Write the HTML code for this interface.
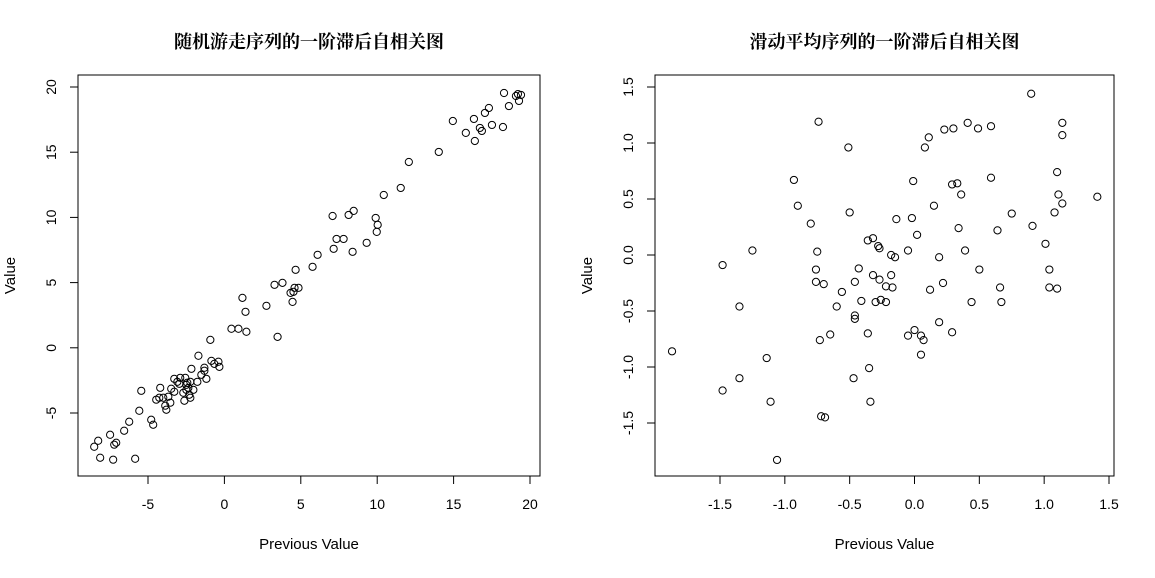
<!DOCTYPE html>
<html><head><meta charset="utf-8"><style>
body{margin:0;background:#fff;}
svg text{font-family:"Liberation Sans","Noto Sans CJK SC",sans-serif;}
</style></head><body>
<svg id="chart" width="1155" height="573" xmlns="http://www.w3.org/2000/svg"></svg>
<script>
const leftPrev=[-8.52,-8.26,-8.13,-7.48,-7.21,-7.08,-7.28,-6.56,-6.23,-5.84,-5.57,-5.44,-4.79,-4.66,-4.46,-4.26,-4.20,-4.00,-3.87,-3.80,-3.67,-3.54,-3.48,-3.28,-3.28,-3.08,-2.95,-2.89,-2.62,-2.69,-2.56,-2.49,-2.49,-2.43,-2.36,-2.30,-2.23,-2.23,-2.16,-2.03,-1.77,-1.70,-1.51,-1.31,-1.18,-1.31,-0.92,-0.85,-0.66,-0.39,-0.33,0.46,0.92,1.18,1.38,1.44,2.75,3.28,3.48,3.80,4.33,4.46,4.52,4.59,4.66,4.85,5.77,6.10,7.08,7.15,7.34,7.80,8.13,8.39,8.46,9.31,9.90,9.97,10.03,10.43,11.54,12.07,14.03,14.95,15.80,16.33,16.39,16.72,16.85,17.05,17.31,17.51,18.23,18.30,18.62,19.08,19.21,19.28,19.41];
const leftVal=[-7.59,-7.13,-8.43,-6.67,-7.43,-7.28,-8.58,-6.36,-5.67,-8.51,-4.83,-3.30,-5.52,-5.90,-3.98,-3.83,-3.07,-3.83,-4.44,-4.75,-3.75,-4.21,-3.14,-2.38,-3.37,-2.61,-2.76,-2.30,-4.06,-3.45,-2.30,-2.84,-3.22,-2.68,-3.07,-3.60,-3.83,-2.61,-1.61,-3.22,-2.61,-0.61,-2.07,-1.76,-2.38,-1.53,0.61,-1.00,-1.23,-1.07,-1.46,1.46,1.46,3.83,2.76,1.23,3.22,4.83,0.84,4.98,4.21,3.52,4.29,4.60,5.98,4.60,6.21,7.13,10.11,7.59,8.35,8.35,10.19,7.36,10.50,8.05,9.96,8.89,9.43,11.72,12.26,14.25,15.02,17.39,16.48,17.55,15.86,16.86,16.63,18.01,18.39,17.09,16.93,19.54,18.54,19.31,19.46,18.93,19.39];
const rightPrev=[-1.87,-1.48,-1.48,-1.35,-1.35,-1.25,-1.14,-1.11,-1.06,-0.93,-0.90,-0.80,-0.76,-0.76,-0.74,-0.75,-0.73,-0.72,-0.69,-0.70,-0.65,-0.60,-0.56,-0.51,-0.50,-0.47,-0.46,-0.46,-0.46,-0.43,-0.41,-0.36,-0.36,-0.35,-0.34,-0.32,-0.32,-0.30,-0.28,-0.27,-0.27,-0.26,-0.22,-0.22,-0.18,-0.17,-0.18,-0.15,-0.14,-0.05,-0.05,-0.02,-0.01,0.00,0.02,0.05,0.05,0.07,0.08,0.11,0.12,0.15,0.19,0.19,0.22,0.23,0.29,0.29,0.30,0.33,0.34,0.36,0.39,0.41,0.44,0.49,0.50,0.59,0.59,0.64,0.66,0.67,0.75,0.90,0.91,1.01,1.04,1.04,1.08,1.11,1.10,1.10,1.14,1.14,1.14,1.41];
const rightVal=[-0.86,-0.09,-1.21,-0.46,-1.10,0.04,-0.92,-1.31,-1.83,0.67,0.44,0.28,-0.24,-0.13,1.19,0.03,-0.76,-1.44,-1.45,-0.26,-0.71,-0.46,-0.33,0.96,0.38,-1.10,-0.24,-0.54,-0.57,-0.12,-0.41,0.13,-0.70,-1.01,-1.31,-0.18,0.15,-0.42,0.08,-0.22,0.06,-0.40,-0.42,-0.28,-0.18,-0.29,0.00,-0.02,0.32,-0.72,0.04,0.33,0.66,-0.67,0.18,-0.89,-0.72,-0.76,0.96,1.05,-0.31,0.44,-0.60,-0.02,-0.25,1.12,0.63,-0.69,1.13,0.64,0.24,0.54,0.04,1.18,-0.42,1.13,-0.13,1.15,0.69,0.22,-0.29,-0.42,0.37,1.44,0.26,0.10,-0.13,-0.29,0.38,0.54,0.74,-0.30,0.46,1.18,1.07,0.52];
const leftXTicks=[-5,0,5,10,15,20];
const leftYTicks=[-5,0,5,10,15,20];
const rightXTicks=[-1.5,-1.0,-0.5,0.0,0.5,1.0,1.5];
const rightYTicks=[-1.5,-1.0,-0.5,0.0,0.5,1.0,1.5];
const leftTickText=["-5","0","5","10","15","20"];
const rightTickText=["-1.5","-1.0","-0.5","0.0","0.5","1.0","1.5"];

const svg=document.getElementById('chart');
const NS='http://www.w3.org/2000/svg';
function mk(tag,attrs,parent){const e=document.createElementNS(NS,tag);for(const k in attrs)e.setAttribute(k,attrs[k]);(parent||svg).appendChild(e);return e;}

function panel(p){
  const g=mk('g',{});
  
  
  const sx=v=>p.x0+(v-p.xa)*(p.x1-p.x0)/(p.xb-p.xa);
  const sy=v=>p.y0-(v-p.ya)*(p.y0-p.y1)/(p.yb-p.ya);
  const box=mk('rect',{x:p.L,y:p.T,width:p.R-p.L,height:p.B-p.T,fill:'none',stroke:'#000','stroke-width':1},g);
  
  
  const xa=mk('g',{},g);
  
  
  mk('line',{x1:sx(p.xt[0]),x2:sx(p.xt[p.xt.length-1]),y1:p.B,y2:p.B,stroke:'#000'},xa);
  p.xt.forEach((v,i)=>{
    mk('line',{x1:sx(v),x2:sx(v),y1:p.B,y2:p.B+8,stroke:'#000'},xa);
    const t=mk('text',{x:sx(v),y:509,'text-anchor':'middle','font-size':14,fill:'#000'},xa);
    t.textContent=p.tt[i];
    
    
  });
  const ya=mk('g',{},g);
  
  
  mk('line',{x1:p.L,x2:p.L,y1:sy(p.yt[0]),y2:sy(p.yt[p.yt.length-1]),stroke:'#000'},ya);
  p.yt.forEach((v,i)=>{
    mk('line',{x1:p.L,x2:p.L-8,y1:sy(v),y2:sy(v),stroke:'#000'},ya);
    const lx=p.L-22;
    const t=mk('text',{x:lx,y:sy(v),'text-anchor':'middle','font-size':14,fill:'#000',transform:`rotate(-90 ${lx} ${sy(v)})`},ya);
    t.textContent=p.yl[i];
    
    
  });
  const pts=mk('g',{},g);
  
  
  p.px.forEach((v,i)=>{
    const c=mk('circle',{cx:sx(v),cy:sy(p.py[i]),r:3.6,fill:'none',stroke:'#000','stroke-width':1},pts);
    
    
  });
  const ti=mk('text',{x:(p.L+p.R)/2,y:48,'text-anchor':'middle','font-size':18,'font-weight':'bold',style:'font-family:"Liberation Serif","Noto Serif CJK SC",serif'},g);
  ti.textContent=p.title;
  
  
  const xl=mk('text',{x:(p.L+p.R)/2,y:549,'text-anchor':'middle','font-size':15},g);
  xl.textContent='Previous Value';
  
  
  const yx=p.L-63;
  const yl=mk('text',{x:yx,y:(p.T+p.B)/2,'text-anchor':'middle','font-size':15,transform:`rotate(-90 ${yx} ${(p.T+p.B)/2})`},g);
  yl.textContent='Value';
  
  
}
panel({name:'random-walk-lag-plot',title:'随机游走序列的一阶滞后自相关图',L:78,R:540,T:75,B:476,
  xa:-5,xb:20,x0:148,x1:530,ya:-5,yb:20,y0:413,y1:87,
  xt:leftXTicks,yt:leftYTicks,tt:leftTickText,yl:leftTickText,px:leftPrev,py:leftVal});
panel({name:'moving-average-lag-plot',title:'滑动平均序列的一阶滞后自相关图',L:655,R:1114,T:75,B:476,
  xa:-1.5,xb:1.5,x0:720,x1:1109,ya:-1.5,yb:1.5,y0:423,y1:87,
  xt:rightXTicks,yt:rightYTicks,tt:rightTickText,yl:rightTickText,px:rightPrev,py:rightVal});
</script>
</body></html>
